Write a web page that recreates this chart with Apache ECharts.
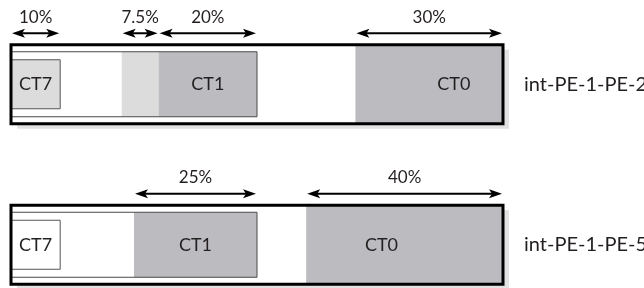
<!DOCTYPE html>
<html>
<head>
<meta charset="UTF-8">
<title>CT shares</title>
<script src="https://cdn.jsdelivr.net/npm/echarts@6/dist/echarts.min.js"></script>
</head>
<body style="margin: 0">
<div id="main" style="width: 644px; height: 288px"></div>
<script>
var rowNames = ['int-PE-1-PE-2', 'int-PE-1-PE-5'];
// [row, start %, end %]
var frames = [[0, 0, 100], [1, 0, 100]];
var strips = [[0, 0, 50], [1, 0, 50]];
// [row, start %, end %, shade]
var fills = [[0, 22.5, 30, 'light'], [0, 30, 50, 'dark'], [0, 70, 100, 'dark'],
             [1, 25, 50, 'dark'], [1, 60, 100, 'dark']];
// CT7 boxes: [row, start %, end %, filled]
var smallBoxes = [[0, 0, 10, 1], [1, 0, 10, 0]];
// [row, start %, end %, label, label centre %]
var classes = [[0, 0, 10, 'CT7', 5], [0, 30, 50, 'CT1', 40], [0, 70, 100, 'CT0', 90],
               [1, 0, 10, 'CT7', 5], [1, 25, 50, 'CT1', 37.5], [1, 60, 100, 'CT0', 75.3]];
// [row, start %, end %, label]
var shares = [[0, 0, 10, '10%'], [0, 22.5, 30, '7.5%'], [0, 30, 50, '20%'], [0, 70, 100, '30%'],
              [1, 25, 50, '25%'], [1, 60, 100, '40%']];

var shadeColor = { light: '#dcdcdc', dark: '#bcbcc0' };
var textColor = '#231f20';

function span(api, halfH) {
    var a = api.coord([api.value(1), api.value(0)]);
    var b = api.coord([api.value(2), api.value(0)]);
    return { x: a[0], y: a[1] - halfH, width: b[0] - a[0], height: halfH * 2 };
}

function arrowHead(x, y, dir) {
    return {
        type: 'polygon',
        shape: { points: [[x, y], [x + dir * 13, y - 4.5], [x + dir * 10, y], [x + dir * 13, y + 4.5]] },
        style: { fill: '#000' }
    };
}

var chart = echarts.init(document.getElementById('main'));
chart.setOption({
    animation: false,
    grid: { left: 11, width: 492, top: 4, height: 321, outerBoundsMode: 'none', containLabel: false },
    xAxis: { type: 'value', min: 0, max: 100, show: false },
    yAxis: {
        type: 'category', data: rowNames, inverse: true, position: 'right',
        axisLine: { show: false }, axisTick: { show: false }, splitLine: { show: false },
        axisLabel: { margin: 21, fontSize: 20, fontFamily: 'Lato', color: textColor }
    },
    series: [{
        // shadow and white ground
        type: 'custom', z: 1, data: frames,
        renderItem: function (params, api) {
            var r = span(api, 39.5);
            return { type: 'group', children: [
                { type: 'rect', shape: { x: r.x + 6, y: r.y + 5, width: r.width, height: r.height }, style: { fill: '#e2e2e2' } },
                { type: 'rect', shape: r, style: { fill: '#fff' } }
            ] };
        }
    }, {
        type: 'custom', z: 2, data: fills,
        renderItem: function (params, api) {
            // CT0 reaches the right edge and fills the whole frame height
            var r = span(api, api.value(2) >= 100 ? 39.5 : 32.5);
            return { type: 'rect', shape: r, style: { fill: shadeColor[api.value(3)] } };
        }
    }, {
        type: 'custom', z: 3, data: strips,
        renderItem: function (params, api) {
            return { type: 'rect', shape: span(api, 32.5), style: { fill: null, stroke: '#4a4a4a', lineWidth: 1 } };
        }
    }, {
        type: 'custom', z: 4, data: smallBoxes,
        renderItem: function (params, api) {
            return { type: 'rect', shape: span(api, 24.5),
                style: { fill: api.value(3) ? '#dcdcdc' : '#fff', stroke: '#555', lineWidth: 1 } };
        }
    }, {
        type: 'custom', z: 5, data: frames,
        renderItem: function (params, api) {
            return { type: 'rect', shape: span(api, 39.5), style: { fill: null, stroke: '#000', lineWidth: 3 } };
        }
    }, {
        type: 'custom', z: 6, data: classes,
        renderItem: function (params, api) {
            var p = api.coord([api.value(4), api.value(0)]);
            return { type: 'text', style: { text: api.value(3), x: p[0], y: p[1], align: 'center', verticalAlign: 'middle',
                font: '18px Lato', fill: textColor } };
        }
    }, {
        type: 'custom', z: 6, data: shares,
        renderItem: function (params, api) {
            var a = api.coord([api.value(1), api.value(0)]);
            var b = api.coord([api.value(2), api.value(0)]);
            var x1 = a[0] + 1, x2 = b[0] - 1, y = a[1] - 51;
            return { type: 'group', children: [
                { type: 'line', shape: { x1: x1 + 9, y1: y, x2: x2 - 9, y2: y }, style: { stroke: '#000', lineWidth: 2 } },
                arrowHead(x1, y, 1),
                arrowHead(x2, y, -1),
                { type: 'text', style: { text: api.value(3), x: (a[0] + b[0]) / 2, y: a[1] - 67, align: 'center', verticalAlign: 'middle',
                    font: '17px Lato', fill: textColor } }
            ] };
        }
    }]
});
</script>
</body>
</html>
